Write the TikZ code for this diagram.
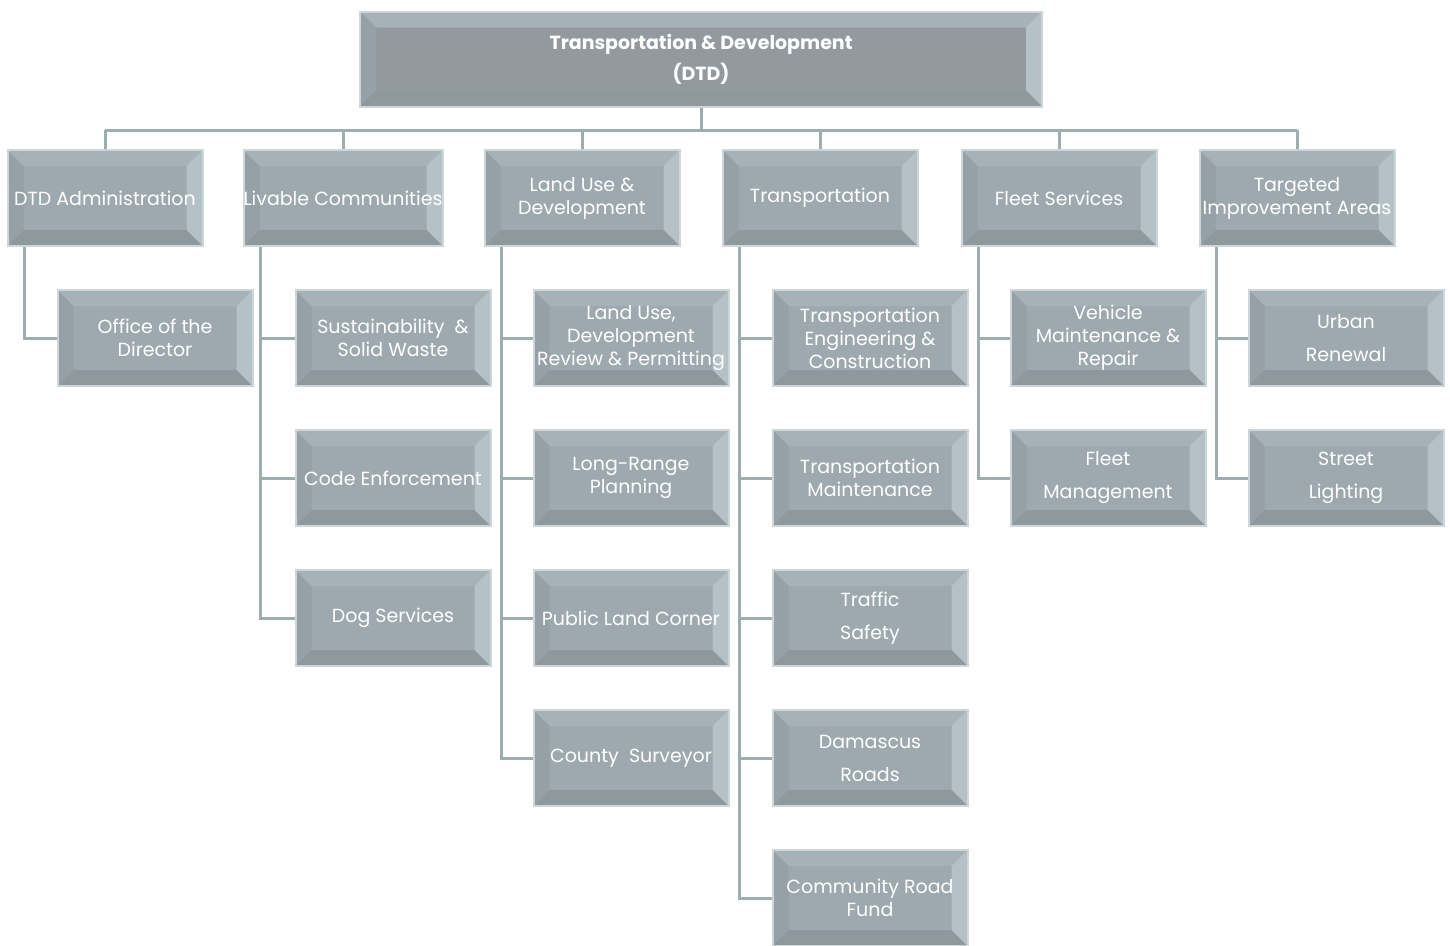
\documentclass[tikz,border=0pt]{standalone}
\usepackage{fontspec}
\setmainfont{Poppins}
\usetikzlibrary{positioning}
\definecolor{boxface}{RGB}{157,169,175}
\definecolor{headface}{RGB}{146,154,160}
\definecolor{bvtop}{RGB}{165,178,184}
\definecolor{bvleft}{RGB}{150,161,167}
\definecolor{bvright}{RGB}{180,194,200}
\definecolor{bvbottom}{RGB}{143,152,157}
\definecolor{boxrim}{RGB}{206,214,218}
\definecolor{linecol}{RGB}{158,174,176}
\newcommand{\bvl}{16pt}

\begin{document}
\begin{tikzpicture}[line cap=butt,line join=miter,x=1pt,y=-1pt,
  bevel/.style={path picture={
    \fill[bvtop] (path picture bounding box.north west) -- (path picture bounding box.north east)
      -- ([xshift=-\bvl,yshift=-\bvl]path picture bounding box.north east) -- ([xshift=\bvl,yshift=-\bvl]path picture bounding box.north west) -- cycle;
    \fill[bvleft] (path picture bounding box.north west) -- (path picture bounding box.south west)
      -- ([xshift=\bvl,yshift=\bvl]path picture bounding box.south west) -- ([xshift=\bvl,yshift=-\bvl]path picture bounding box.north west) -- cycle;
    \fill[bvright] (path picture bounding box.north east) -- (path picture bounding box.south east)
      -- ([xshift=-\bvl,yshift=\bvl]path picture bounding box.south east) -- ([xshift=-\bvl,yshift=-\bvl]path picture bounding box.north east) -- cycle;
    \fill[bvbottom] (path picture bounding box.south west) -- (path picture bounding box.south east)
      -- ([xshift=-\bvl,yshift=\bvl]path picture bounding box.south east) -- ([xshift=\bvl,yshift=\bvl]path picture bounding box.south west) -- cycle;
  }},
  unit/.style={bevel,draw=boxrim,line width=2pt,fill=boxface,minimum width=195pt,minimum height=96pt,
    inner sep=0pt,align=center,text=white,font=\fontsize{19}{23}\selectfont},
  head/.style={unit,fill=headface,minimum width=682pt,minimum height=95pt,font=\fontsize{19}{31}\selectfont\bfseries},
  link/.style={draw=linecol,line width=3pt}]
\useasboundingbox (0,0) rectangle (1450,945);
	\node[head] (dtd) at (701,59) {Transportation \& Development\\(DTD)};
	% first level
	\node[unit] (adm) at (105,198) {DTD Administration};
	\node[unit] (liv) at (343,198) {Livable Communities};
	\node[unit] (lud) at (582,198) {Land Use \&\\Development};
	\node[unit] (trn) at (820,198) {Transportation};
	\node[unit] (flt) at (1059,198) {Fleet Services};
	\node[unit] (tia) at (1297,198) {Targeted\\Improvement Areas};
	% second level
	\node[unit] (ofd) at (155,338) {Office of the\\Director};
	\node[unit] (ssw) at (393,338) {Sustainability~~\&\\Solid Waste};
	\node[unit] (cen) at (393,478) {Code Enforcement};
	\node[unit] (dog) at (393,618) {Dog Services};
	\node[unit] (ldr) at (631,338) {Land Use,\\Development\\Review \& Permitting};
	\node[unit] (lrp) at (631,478) {Long-Range\\Planning};
	\node[unit] (plc) at (631,618) {Public Land Corner};
	\node[unit] (csv) at (631,758) {County~~Surveyor};
	\node[unit] (tec) at (870,338) {Transportation\\Engineering \&\\Construction};
	\node[unit] (tmn) at (870,478) {Transportation\\Maintenance};
	\node[unit] (tsf) at (870,618) {Traffic\\[10pt]Safety};
	\node[unit] (dmr) at (870,758) {Damascus\\[10pt]Roads};
	\node[unit] (crf) at (870,898) {Community Road\\Fund};
	\node[unit] (vmr) at (1108,338) {Vehicle\\Maintenance \&\\Repair};
	\node[unit] (fmg) at (1108,478) {Fleet\\[10pt]Management};
	\node[unit] (urb) at (1346,338) {Urban\\[10pt]Renewal};
	\node[unit] (stl) at (1346,478) {Street\\[10pt]Lighting};
	% connectors
	\coordinate (bus) at (0,130);
	\draw[link] (dtd.south) -- (dtd.south |- bus);
	\draw[link] (adm.north |- bus) -- (tia.north |- bus);
	\foreach \u in {adm,liv,lud,trn,flt,tia}
		\draw[link] (\u.north |- bus) -- (\u.north);
	\foreach \p/\c in {adm/ofd,liv/ssw,liv/cen,liv/dog,lud/ldr,lud/lrp,lud/plc,lud/csv,
		trn/tec,trn/tmn,trn/tsf,trn/dmr,trn/crf,flt/vmr,flt/fmg,tia/urb,tia/stl}
		\draw[link] ([xshift=18pt]\p.south west) |- (\c.west);
\end{tikzpicture}
\end{document}
